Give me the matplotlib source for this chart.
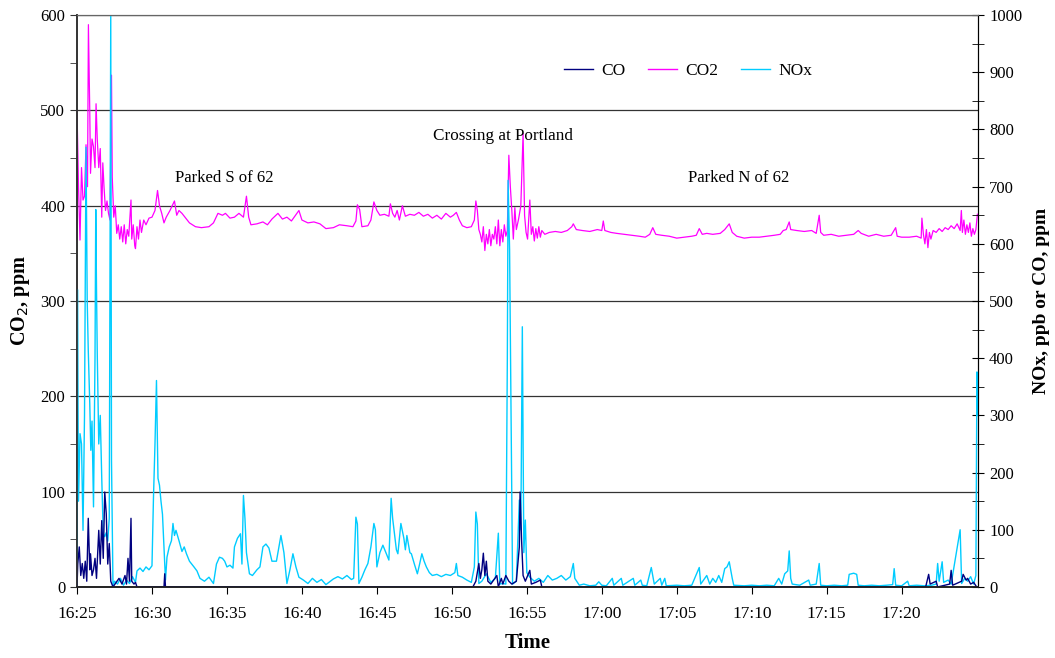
import matplotlib
matplotlib.use("Agg")
import matplotlib.pyplot as plt
from matplotlib.ticker import MultipleLocator, FixedLocator
from matplotlib.lines import Line2D

plt.rcParams['font.family'] = ['Liberation Serif', 'DejaVu Serif']
plt.rcParams['font.size'] = 12

# time in minutes after 16:25
co2_t = [0.0, 0.1, 0.2, 0.3, 0.4, 0.5, 0.6, 0.7, 0.76, 0.85, 0.9, 1.0, 1.1, 1.2, 1.27, 1.35, 1.45, 1.55,
         1.65, 1.72, 1.8, 1.9, 2.0, 2.1, 2.2, 2.3, 2.35, 2.45, 2.55, 2.65, 2.75, 2.85, 2.95, 3.05, 3.15,
         3.25, 3.35, 3.45, 3.6, 3.65, 3.75, 3.85, 3.9, 4.0, 4.1, 4.2, 4.3, 4.45, 4.6, 4.8, 5.0, 5.2, 5.37,
         5.5, 5.65, 5.8, 5.95, 6.2, 6.5, 6.65, 6.8, 7.0, 7.2, 7.5, 7.9, 8.3, 8.8, 9.1, 9.4, 9.7, 9.9,
         10.2, 10.5, 10.8, 11.1, 11.3, 11.45, 11.6, 12.0, 12.4, 12.7, 13.0, 13.4, 13.7, 14.0, 14.3, 14.8,
         15.0, 15.4, 15.8, 16.2, 16.6, 17.1, 17.5, 18.0, 18.4, 18.6, 18.7, 18.85, 19.0, 19.4, 19.6, 19.8,
         20.0, 20.2, 20.5, 20.8, 20.9, 21.05, 21.2, 21.35, 21.5, 21.7, 21.9, 22.2, 22.5, 22.8, 23.1, 23.4,
         23.7, 24.0, 24.3, 24.6, 24.9, 25.1, 25.3, 25.5, 25.7, 26.0, 26.3, 26.5, 26.6, 26.7, 26.8, 26.9,
         27.0, 27.1, 27.2, 27.3, 27.4, 27.5, 27.6, 27.7, 27.8, 27.9, 28.0, 28.1, 28.2, 28.3, 28.4, 28.5,
         28.6, 28.7, 28.8, 28.9, 29.0, 29.1, 29.2, 29.3, 29.45, 29.6, 29.75, 29.85, 29.95, 30.05, 30.2,
         30.3, 30.4, 30.5, 30.6, 30.7, 30.8, 30.9, 31.0, 31.2, 31.5, 31.9, 32.3, 32.7, 33.0, 33.1, 33.3,
         33.7, 34.2, 34.7, 35.0, 35.1, 35.2, 35.6, 36.0, 36.5, 37.0, 37.5, 37.9, 38.2, 38.4, 38.6, 39.0,
         39.5, 40.0, 40.5, 41.0, 41.3, 41.5, 41.7, 42.0, 42.4, 42.9, 43.2, 43.5, 43.7, 44.0, 44.5, 45.0,
         45.5, 46.0, 46.5, 46.9, 47.1, 47.3, 47.5, 47.6, 48.0, 48.5, 49.0, 49.3, 49.5, 49.6, 49.8, 50.3,
         50.8, 51.3, 51.8, 52.1, 52.3, 52.8, 53.3, 53.8, 54.3, 54.6, 54.7, 55.0, 55.5, 56.0, 56.3, 56.35,
         56.45, 56.55, 56.65, 56.75, 56.85, 56.95, 57.1, 57.3, 57.5, 57.7, 57.9, 58.1, 58.3, 58.5, 58.7,
         58.9, 58.98, 59.05, 59.15, 59.25, 59.35, 59.45, 59.55, 59.65, 59.75, 59.85, 59.95, 60.05]
co2_v = [500, 420, 364, 440, 406, 410, 464, 420, 590, 500, 434, 470, 462, 440, 507, 470, 440, 460,
         388, 445, 420, 395, 405, 392, 385, 537, 430, 388, 400, 371, 380, 365, 378, 362, 380,
         360, 375, 368, 406, 365, 380, 358, 355, 378, 365, 385, 372, 385, 380, 387, 388, 395, 416,
         400, 392, 382, 388, 395, 405, 390, 395, 392, 388, 382, 378, 377, 378, 382, 392, 390, 392,
         387, 388, 392, 388, 410, 388, 380, 381, 383, 380, 386, 392, 386, 388, 384, 395,
         385, 382, 383, 381, 376, 377, 380, 379, 378, 384, 401, 396, 378, 379, 385, 404,
         395, 390, 391, 389, 402, 392, 388, 395, 385, 400, 389, 391, 390, 393, 389, 391,
         387, 390, 386, 392, 388, 390, 393, 385, 379, 377, 378, 385, 405, 395, 375, 370,
         362, 378, 353, 370, 360, 375, 358, 370, 365, 378, 360, 385, 358, 375, 362, 380,
         368, 374, 453, 420, 395, 365, 398, 375, 386, 400, 476, 390, 372, 365, 406,
         370, 378, 363, 376, 366, 378, 367, 374, 370, 372, 373, 372, 374, 378, 381, 375,
         374, 373, 375, 374, 384, 374, 372, 371, 370, 369, 368, 367, 370, 377, 370, 369,
         368, 366, 367, 368, 369, 376, 370, 371, 370, 371, 375, 381, 372, 368, 366, 367,
         367, 368, 369, 370, 374, 375, 383, 375, 374, 373, 374, 371, 390, 372, 369, 370,
         368, 369, 370, 374, 371, 368, 370, 368, 369, 377, 368, 367, 367, 368, 366, 387,
         370, 360, 375, 356, 372, 365, 374, 372, 376, 373, 377, 375, 379, 376, 381,
         374, 395, 372, 385, 370, 380, 372, 382, 368, 376, 370, 375, 391]

nox_t = [0.0, 0.03, 0.1, 0.2, 0.3, 0.4, 0.5, 0.6, 0.68, 0.75, 0.85, 0.92, 1.0, 1.1, 1.2, 1.25, 1.3, 1.35,
         1.45, 1.55, 1.65, 1.75, 1.85, 1.95, 2.05, 2.15, 2.25, 2.3, 2.4, 2.5, 2.7, 2.9, 3.1, 3.3, 3.5, 3.7,
         3.9, 4.0, 4.2, 4.4, 4.6, 4.8, 5.0, 5.1, 5.2, 5.3, 5.4, 5.5, 5.6, 5.7, 5.9, 6.0, 6.15, 6.3, 6.4,
         6.5, 6.6, 6.8, 7.0, 7.15, 7.3, 7.5, 7.8, 8.0, 8.2, 8.5, 8.8, 9.1, 9.3, 9.5, 9.7, 9.85, 10.0,
         10.2, 10.4, 10.5, 10.7, 10.9, 11.0, 11.1, 11.2, 11.3, 11.5, 11.7, 12.0, 12.2, 12.4, 12.6, 12.8,
         13.0, 13.3, 13.6, 13.8, 14.0, 14.2, 14.4, 14.6, 14.8, 15.1, 15.4, 15.7, 16.0, 16.3, 16.6, 16.9,
         17.1, 17.4, 17.7, 18.0, 18.3, 18.45, 18.6, 18.7, 18.8, 19.0, 19.2, 19.4, 19.6, 19.8, 19.9, 20.0,
         20.2, 20.4, 20.6, 20.8, 20.95, 21.05, 21.2, 21.3, 21.4, 21.6, 21.8, 21.9, 22.0, 22.2, 22.3, 22.5,
         22.7, 22.85, 23.0, 23.15, 23.3, 23.5, 23.7, 24.0, 24.3, 24.6, 24.9, 25.2, 25.3, 25.4, 25.7, 26.0,
         26.3, 26.5, 26.6, 26.7, 26.8, 27.0, 27.3, 27.6, 27.9, 28.1, 28.2, 28.4, 28.6, 28.7, 28.75, 28.85,
         28.95, 29.05, 29.3, 29.5, 29.6, 29.7, 29.8, 29.9, 30.0, 30.2, 30.5, 30.8, 31.1, 31.4, 31.7, 32.0,
         32.3, 32.6, 32.9, 33.1, 33.2, 33.5, 33.8, 34.2, 34.6, 34.8, 35.0, 35.3, 35.7, 35.8, 36.3, 36.4,
         37.1, 37.2, 37.6, 37.7, 38.0, 38.3, 38.5, 38.9, 39.0, 39.2, 39.3, 40.0, 40.5, 41.0, 41.5, 41.6,
         42.0, 42.2, 42.4, 42.6, 42.8, 43.0, 43.2, 43.35, 43.5, 43.7, 43.8, 44.5, 45.0, 45.5, 46.0, 46.5,
         46.8, 47.0, 47.2, 47.4, 47.5, 47.6, 47.7, 48.2, 48.8, 48.9, 49.3, 49.5, 49.6, 50.0, 50.5, 51.0,
         51.4, 51.5, 51.8, 52.0, 52.1, 52.5, 53.0, 53.5, 54.0, 54.4, 54.5, 54.6, 55.0, 55.4, 55.5, 56.0,
         56.5, 57.0, 57.3, 57.4, 57.5, 57.7, 57.8, 58.1, 58.3, 58.9, 59.0, 59.2, 59.4, 59.6, 59.8, 59.95,
         60.02, 60.05]
nox_v = [0, 520, 150, 268, 250, 99, 300, 769, 500, 414, 321, 239, 290, 140, 400, 660, 520, 408,
         250, 300, 190, 93, 88, 95, 80, 120, 1000, 221, 0, 10, 5, 15, 3, 12, 6, 18,
         8, 28, 33, 27, 35, 30, 37, 157, 250, 361, 190, 178, 150, 127, 12, 52, 70, 81, 111,
         90, 99, 81, 62, 70, 58, 45, 35, 28, 15, 10, 17, 6, 40, 52, 50, 45, 35,
         38, 33, 70, 85, 93, 40, 160, 120, 60, 23, 20, 30, 35, 70, 75, 68,
         45, 45, 90, 60, 6, 30, 58, 35, 17, 12, 6, 15, 8, 13, 4, 10,
         14, 18, 14, 20, 13, 15, 122, 110, 6, 17, 30, 41, 70, 111, 100, 35,
         60, 73, 60, 47, 155, 120, 87, 65, 58, 111, 85, 65, 90, 60, 58, 40,
         23, 40, 58, 45, 35, 25, 20, 22, 18, 22, 20, 25, 41, 20, 17, 12,
         8, 35, 131, 110, 6, 10, 23, 8, 15, 94, 5, 6, 5, 400, 711, 590,
         300, 5, 10, 152, 100, 455, 60, 117, 25, 17, 10, 15, 8, 20, 12, 15,
         20, 12, 18, 41, 15, 3, 5, 2, 3, 9, 3, 2, 15, 3, 15, 3,
         15, 3, 12, 3, 2, 34, 5, 15, 3, 15, 2, 3, 2, 3, 34, 5,
         20, 5, 15, 8, 20, 8, 32, 35, 44, 15, 3, 2, 3, 2, 3, 2,
         15, 5, 23, 28, 63, 15, 5, 3, 12, 3, 5, 41, 3, 2, 3, 2,
         3, 22, 24, 22, 3, 2, 3, 2, 3, 4, 32, 3, 2, 10, 2, 3,
         2, 3, 5, 41, 10, 44, 8, 12, 5, 100, 6, 15, 10, 18, 5, 20,
         376, 300]

co_t = [0.0, 0.05, 0.15, 0.25, 0.35, 0.45, 0.55, 0.65, 0.75, 0.85, 0.9, 1.0, 1.1, 1.2, 1.3, 1.45, 1.55,
        1.65, 1.75, 1.85, 1.95, 2.05, 2.15, 2.25, 2.4, 2.8, 3.0, 3.2, 3.3, 3.4, 3.5, 3.6, 3.65, 3.8, 3.9,
        4.0, 5.8, 5.85, 5.9, 26.4, 26.6, 26.8, 26.9, 27.0, 27.1, 27.2, 27.3, 27.4, 27.6, 28.0, 28.1, 28.3,
        28.4, 28.6, 28.8, 29.0, 29.3, 29.5, 29.55, 29.65, 29.75, 29.9, 30.2, 30.3, 30.6, 30.9, 31.0, 56.6,
        56.8, 56.9, 57.3, 57.4, 58.2, 58.3, 58.4, 59.0, 59.1, 59.3, 59.4, 59.6, 59.8, 60.0]
co_v = [0, 40, 70, 20, 41, 15, 45, 10, 120, 30, 58, 20, 30, 50, 15, 99, 40,
        116, 50, 166, 128, 40, 76, 10, 0, 15, 5, 20, 5, 50, 10, 120, 10, 5, 8,
        0, 0, 23, 0, 0, 10, 41, 15, 30, 59, 20, 45, 10, 5, 20, 0, 15,
        5, 20, 10, 5, 10, 70, 166, 82, 20, 10, 29, 5, 8, 12, 0, 0,
        22, 5, 10, 0, 5, 29, 3, 10, 22, 12, 15, 5, 8, 0]

tick_pos = [0, 5, 10, 15, 20, 25, 30, 35, 40, 45, 50, 55]
tick_labels = ["16:25", "16:30", "16:35", "16:40", "16:45", "16:50", "16:55",
               "17:00", "17:05", "17:10", "17:15", "17:20"]

fig = plt.figure(figsize=(10.55, 6.58), dpi=100)
ax = fig.add_subplot(111)
fig.subplots_adjust(left=0.073, right=0.927, top=0.977, bottom=0.108)
ax2 = ax.twinx()

ax.plot(co2_t, co2_v, color='#FF00FF', lw=0.9)
ax2.plot(nox_t, nox_v, color='#00CCFF', lw=1.0)
ax2.plot(co_t, co_v, color='#000080', lw=1.0)

ax.set_xlim(0, 60.09)
ax.set_ylim(0, 600)
ax2.set_ylim(0, 1000)

ax.yaxis.set_major_locator(MultipleLocator(100))
ax.yaxis.set_minor_locator(MultipleLocator(50))
ax2.yaxis.set_major_locator(MultipleLocator(100))
ax2.yaxis.set_minor_locator(MultipleLocator(50))
ax.xaxis.set_major_locator(FixedLocator(tick_pos))
ax.set_xticklabels(tick_labels)

ax.grid(axis='y', color='#333333', lw=0.9)
ax.set_axisbelow(True)
ax.tick_params(axis='y', which='both', direction='out', length=5, color='#333333', labelsize=12)
ax.tick_params(axis='x', direction='out', length=5, pad=9, labelsize=12.5)
ax2.tick_params(axis='y', which='both', direction='inout', length=9, labelsize=12)

for a in (ax, ax2):
    a.spines['top'].set_color('#666666')
    a.spines['left'].set_color('#333333')
    a.spines['left'].set_linewidth(1.2)
    a.spines['bottom'].set_color('#222222')
    a.spines['bottom'].set_linewidth(1.2)

ax.set_ylabel('CO$_2$, ppm', fontweight='bold', fontsize=14.5, labelpad=6)
ax2.set_ylabel('NOx, ppb or CO, ppm', fontweight='bold', fontsize=14, labelpad=8)
ax.set_xlabel('Time', fontweight='bold', fontsize=15, labelpad=8)

ax.text(9.8, 429, 'Parked S of 62', ha='center', va='center', fontsize=12)
ax.text(28.4, 473, 'Crossing at Portland', ha='center', va='center', fontsize=12.3)
ax.text(44.1, 429, 'Parked N of 62', ha='center', va='center', fontsize=12)

handles = [Line2D([], [], color='#000080', lw=1),
           Line2D([], [], color='#FF00FF', lw=1),
           Line2D([], [], color='#00CCFF', lw=1)]
ax2.legend(handles, ['CO', 'CO2', 'NOx'], ncol=3, frameon=False, loc='center',
           bbox_to_anchor=(0.678, 0.902), fontsize=12.5, handlelength=1.7,
           handletextpad=0.45, columnspacing=1.3)

fig.savefig('out.png', dpi=100)
